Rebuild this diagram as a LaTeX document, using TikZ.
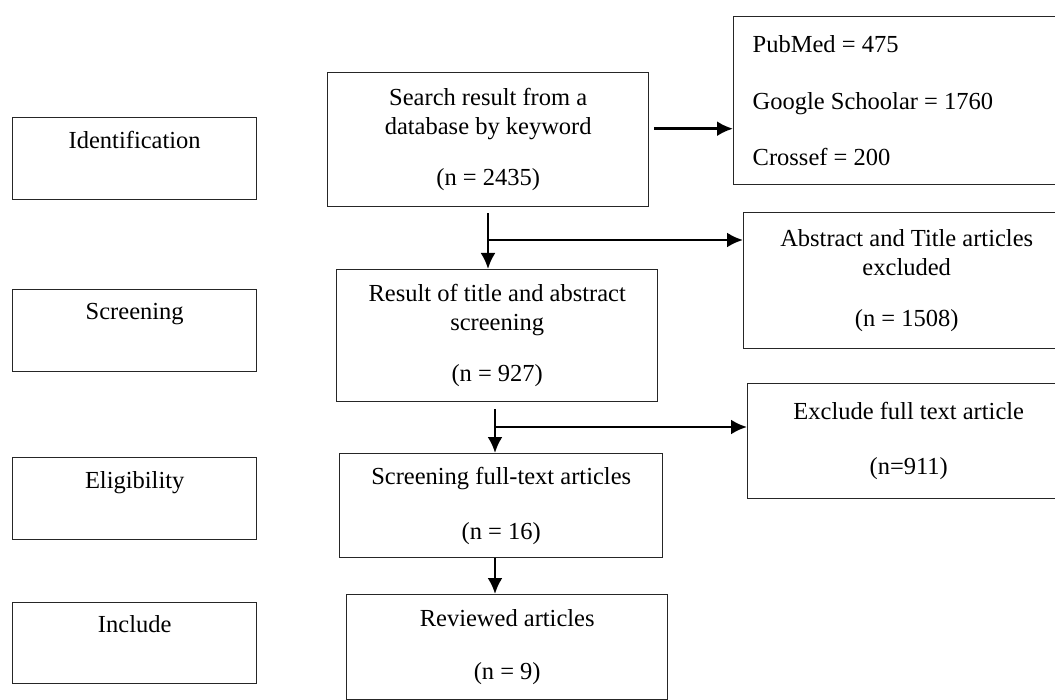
\documentclass[tikz,border=0pt]{standalone}
\usepackage{fontspec}
\setmainfont{Liberation Serif}
\usepackage{tikz}
\usetikzlibrary{arrows.meta}

\begin{document}
\begin{tikzpicture}[x=0.5pt,y=-0.5pt,
	box/.style={draw=black!85, line width=0.7pt, align=center, inner sep=0pt, anchor=north west, font=\fontsize{12.25}{14.5}\selectfont},
	flow/.style={-{Latex[length=8pt,width=7.5pt]}, line width=1.3pt}]

			\useasboundingbox (0,0) rectangle (1055,700);

			% stages
			\node [box, minimum width=122pt, minimum height=41pt] (ident) at (12,117) {Identification\\ \strut};
			\node [box, minimum width=122pt, minimum height=41pt] (screen) at (12,289) {Screening\\ \strut};
			\node [box, minimum width=122pt, minimum height=41pt] (elig) at (12,457) {Eligibility\\ \strut};
			\node [box, minimum width=122pt, minimum height=40.5pt] (incl) at (12,602) {Include\\ \strut};

			% main flow
			\node [box, minimum width=160.5pt, minimum height=67pt] (search) at (327,72) {Search result from a\\database by keyword\\[11pt](n = 2435)};
			\node [box, minimum width=160.5pt, minimum height=66pt] (result) at (336,269) {Result of title and abstract\\screening\\[11pt](n = 927)};
			\node [box, minimum width=161.5pt, minimum height=52pt] (fulltext) at (339,453) {Screening full-text articles\\[13pt](n = 16)};
			\node [box, minimum width=160.5pt, minimum height=52.5pt] (reviewed) at (346,594) {Reviewed articles\\[12pt](n = 9)};

			% side boxes
			\node [box, align=flush left, inner xsep=9.5pt, text width=151pt, minimum height=84pt] (sources) at (733,16) {PubMed = 475\\[13.75pt]Google Schoolar = 1760\\[13.75pt]Crossef = 200};
			\node [box, minimum width=163pt, minimum height=68pt] (absexcl) at (743,212) {Abstract and Title articles\\excluded\\[11pt](n = 1508)};
			\node [box, minimum width=161pt, minimum height=57.5pt] (fullexcl) at (747,383) {Exclude full text article\\[13pt](n=911)};

			\coordinate (split1) at (488,240);
			\coordinate (split2) at (495,427);

			\draw [flow, shorten <=2.5pt] ([yshift=5.5pt]search.east) -- ([yshift=5.5pt]search.east -| sources.west);
			\draw [flow, shorten <=3pt] (search.south -| split1) -- (result.north -| split1);
			\draw [flow] (split1) -- (split1 -| absexcl.west);
			\draw [flow, shorten <=3.5pt] (result.south -| split2) -- (fulltext.north -| split2);
			\draw [flow] (split2) -- (split2 -| fullexcl.west);
			\draw [flow] (fulltext.south -| split2) -- (reviewed.north -| split2);
		\end{tikzpicture}
\end{document}
